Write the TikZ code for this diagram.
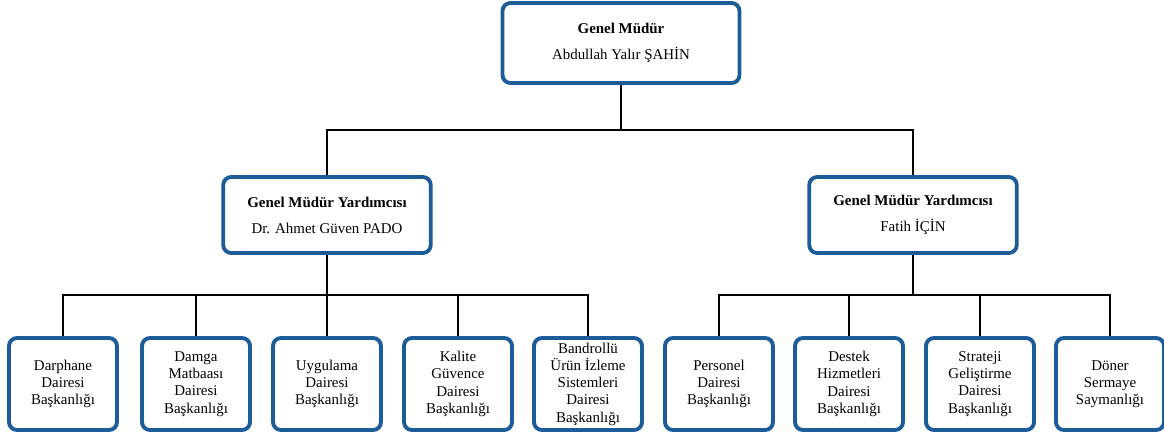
\documentclass[tikz,border=0pt]{standalone}
\usepackage{fontspec}
\setmainfont{Liberation Serif}
\usetikzlibrary{shapes.geometric, arrows}
\definecolor{boxblue}{RGB}{28,92,152}
\tikzstyle{unit} = [draw=boxblue, line width=2.2pt, rounded corners=4.5pt, fill=white, align=center, inner sep=2pt, font=\fontsize{8.5}{9.8}\selectfont]
\tikzstyle{head} = [unit, minimum width=4.74cm, minimum height=1.6cm]
\tikzstyle{deputy} = [unit, minimum width=4.15cm, minimum height=1.52cm]
\tikzstyle{dept} = [unit, minimum width=2.16cm, minimum height=1.84cm]
\tikzstyle{link} = [line width=1.1pt, black]

\begin{document}
\begin{tikzpicture}
        \useasboundingbox (0,0) rectangle (23.28,-8.74);

        %genel mudur
        \node at (12.42,-0.86) [head] (top) {\textbf{Genel Müdür}\\[5pt]Abdullah Yalır ŞAHİN};

        %yardimcilar
        \node at (6.54,-4.30) [deputy] (gmyl) {\textbf{Genel Müdür Yardımcısı}\\[5pt]Dr. Ahmet Güven PADO};
        \node at (18.26,-4.30) [deputy] (gmyr) {\textbf{Genel Müdür Yardımcısı}\\[5pt]Fatih İÇİN};

        %daire baskanliklari
        \node at (1.26,-7.68) [dept] (d1) {Darphane\\Dairesi\\Başkanlığı};
        \node at (3.92,-7.68) [dept] (d2) {Damga\\Matbaası\\Dairesi\\Başkanlığı};
        \node at (6.54,-7.68) [dept] (d3) {Uygulama\\Dairesi\\Başkanlığı};
        \node at (9.16,-7.68) [dept] (d4) {Kalite\\Güvence\\Dairesi\\Başkanlığı};
        \node at (11.76,-7.68) [dept] (d5) {Bandrollü\\Ürün İzleme\\Sistemleri\\Dairesi\\Başkanlığı};
        \node at (14.38,-7.68) [dept] (d6) {Personel\\Dairesi\\Başkanlığı};
        \node at (16.98,-7.68) [dept] (d7) {Destek\\Hizmetleri\\Dairesi\\Başkanlığı};
        \node at (19.60,-7.68) [dept] (d8) {Strateji\\Geliştirme\\Dairesi\\Başkanlığı};
        \node at (22.20,-7.68) [dept] (d9) {Döner\\Sermaye\\Saymanlığı};

        %baglantilar
        \coordinate (j0) at (12.42,-2.60);
        \coordinate (j1) at (6.54,-5.90);
        \coordinate (j2) at (18.26,-5.90);

        \draw [link] (top) -- (j0);
        \draw [link] (gmyl.north) |- (j0) -| (gmyr.north);
        \draw [link] (gmyl) -- (j1);
        \draw [link] (gmyr) -- (j2);
        \foreach \i in {1,...,5}
            \draw [link] (j1) -| (d\i.north);
        \foreach \i in {6,...,9}
            \draw [link] (j2) -| (d\i.north);

    \end{tikzpicture}
\end{document}
